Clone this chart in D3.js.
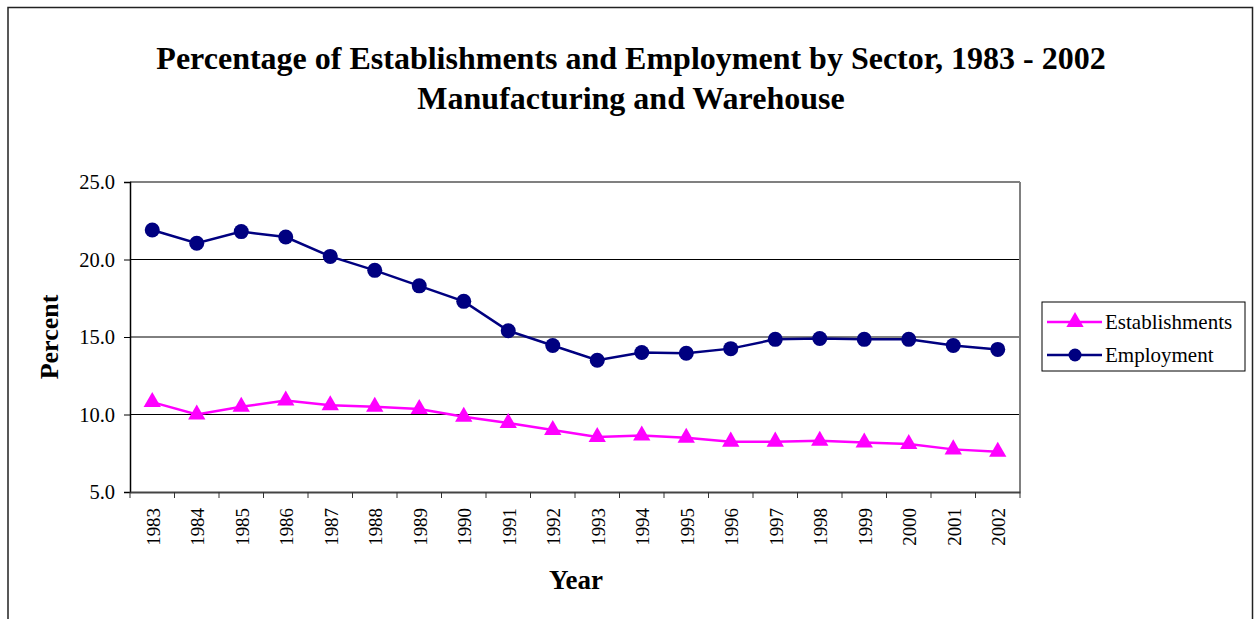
<!DOCTYPE html>
<html><head><meta charset="utf-8">
<script src="https://cdn.jsdelivr.net/npm/d3@7"></script>
<style>body{margin:0;background:#fff}svg{display:block}</style>
</head><body>
<svg id="c" width="1257" height="619"></svg>
<script>
const years = ["1983","1984","1985","1986","1987","1988","1989","1990","1991","1992","1993","1994","1995","1996","1997","1998","1999","2000","2001","2002"];
const establishments = [10.8,10.0,10.5,10.9,10.6,10.5,10.35,9.85,9.45,9.0,8.55,8.65,8.5,8.25,8.25,8.3,8.2,8.1,7.75,7.6];
const employment = [21.9,21.05,21.8,21.45,20.2,19.3,18.3,17.3,15.4,14.45,13.5,14.0,13.95,14.25,14.85,14.9,14.85,14.85,14.45,14.2];
const yTicks = [5,10,15,20,25];
const seriesNames = ["Establishments","Employment"];
const seriesColors = ["#FF00FF","#000080"];

const svg = d3.select("#c");
const font = "'Liberation Serif','Times New Roman',serif";
const L=130,R=1020,T=182,B=492;

// outer border
svg.append("rect").attr("x",8).attr("y",7.5).attr("width",1244.5).attr("height",640)
  .attr("fill","none").attr("stroke","#222").attr("stroke-width",1.5);

const x = d3.scaleBand().domain(years).range([L,R]);
const y = d3.scaleLinear().domain([5,25]).range([B,T]);

// gridlines
svg.append("g").selectAll("line").data(yTicks.filter(v=>v>5&&v<25)).join("line")
  .attr("x1",L).attr("x2",R).attr("y1",d=>y(d)).attr("y2",d=>y(d))
  .attr("stroke","#000").attr("stroke-width",1);

// plot frame top/right
svg.append("line").attr("x1",L).attr("x2",R).attr("y1",T).attr("y2",T).attr("stroke","#808080").attr("stroke-width",2);
svg.append("line").attr("x1",R).attr("x2",R).attr("y1",T).attr("y2",B).attr("stroke","#808080").attr("stroke-width",2);

// y axis
const yAx = svg.append("g").attr("transform",`translate(${L},0)`)
  .call(d3.axisLeft(y).tickValues(yTicks).tickFormat(d3.format(".1f")).tickSize(6).tickPadding(9));
yAx.select(".domain").attr("stroke","#000").attr("stroke-width",1.5);
yAx.selectAll(".tick line").attr("stroke","#000");
yAx.selectAll("text").attr("font-family",font).attr("font-size",20.5).attr("fill","#000");

// x axis
const xAx = svg.append("g").attr("transform",`translate(0,${B})`)
  .call(d3.axisBottom(x).tickSize(0).tickFormat(""));
xAx.select(".domain").attr("stroke","#444").attr("stroke-width",2);
const bounds = years.map(d=>x(d)).concat([R]);
svg.append("g").selectAll("line").data(bounds).join("line")
  .attr("x1",d=>d).attr("x2",d=>d).attr("y1",B).attr("y2",B+6).attr("stroke","#333").attr("stroke-width",1);
svg.append("g").selectAll("text").data(years).join("text")
  .attr("transform",d=>`translate(${x(d)+x.bandwidth()/2+1},${B+16}) rotate(-90) scale(1.08,1.05)`)
  .attr("text-anchor","end").attr("dominant-baseline","central")
  .attr("font-family",font).attr("font-size",17.5).attr("fill","#000").text(d=>d);

// series
const px = d=>x(d)+x.bandwidth()/2;
const line = d3.line().x((d,i)=>px(years[i])).y(d=>y(d));
svg.append("path").datum(establishments).attr("d",line).attr("fill","none").attr("stroke",seriesColors[0]).attr("stroke-width",2.5);
svg.append("path").datum(employment).attr("d",line).attr("fill","none").attr("stroke",seriesColors[1]).attr("stroke-width",2.5);
const tri = d3.symbol().type(d3.symbolTriangle).size(130);
svg.append("g").selectAll("path").data(establishments).join("path")
  .attr("d",tri).attr("transform",(d,i)=>`translate(${px(years[i])},${y(d)})`).attr("fill",seriesColors[0]);
svg.append("g").selectAll("circle").data(employment).join("circle")
  .attr("cx",(d,i)=>px(years[i])).attr("cy",d=>y(d)).attr("r",7.5).attr("fill",seriesColors[1]);

// titles
svg.append("text").attr("x",631).attr("y",69).attr("text-anchor","middle").attr("font-family",font)
  .attr("font-weight","bold").attr("font-size",32).text("Percentage of Establishments and Employment by Sector, 1983 - 2002");
svg.append("text").attr("x",631).attr("y",109).attr("text-anchor","middle").attr("font-family",font)
  .attr("font-weight","bold").attr("font-size",32).text("Manufacturing and Warehouse");
svg.append("text").attr("transform","translate(58,337) rotate(-90)").attr("text-anchor","middle").attr("font-family",font)
  .attr("font-weight","bold").attr("font-size",26).text("Percent");
svg.append("text").attr("x",576).attr("y",589).attr("text-anchor","middle").attr("font-family",font)
  .attr("font-weight","bold").attr("font-size",27).text("Year");

// legend
const lg = svg.append("g");
lg.append("rect").attr("x",1042).attr("y",302).attr("width",203).attr("height",69).attr("fill","#fff").attr("stroke","#000").attr("stroke-width",1);
const ly = [322,355];
seriesNames.forEach((n,i)=>{
  lg.append("line").attr("x1",1047).attr("x2",1102).attr("y1",ly[i]).attr("y2",ly[i]).attr("stroke",seriesColors[i]).attr("stroke-width",2.5);
  if(i===0) lg.append("path").attr("d",tri).attr("transform",`translate(1075,${ly[i]})`).attr("fill",seriesColors[i]);
  else lg.append("circle").attr("cx",1075).attr("cy",ly[i]).attr("r",6.5).attr("fill",seriesColors[i]);
  lg.append("text").attr("x",1105).attr("y",ly[i]+7).attr("font-family",font).attr("font-size",21).text(n);
});
</script>
</body></html>
